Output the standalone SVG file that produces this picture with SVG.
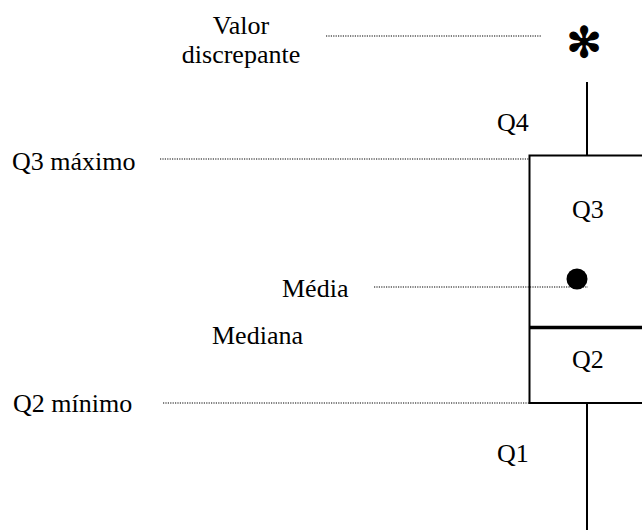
<svg xmlns="http://www.w3.org/2000/svg" width="642" height="530" viewBox="0 0 642 530">
<style>
.t{font-family:"Liberation Serif","Times New Roman",serif;font-size:26px;fill:#000}
.dot{stroke:#000;stroke-width:1.2;stroke-dasharray:1.2 1.2;fill:none}
.ln{stroke:#000;stroke-width:2;fill:none}
</style>
<rect width="642" height="530" fill="#fff"/>
<g id="connectors">
<line class="dot" x1="326" y1="36" x2="541" y2="36"/>
<line class="dot" x1="160" y1="159" x2="529" y2="159"/>
<line class="dot" x1="374" y1="287" x2="588" y2="287"/>
<line class="dot" x1="163" y1="403" x2="541" y2="403"/>
</g>
<g id="box">
<line class="ln" x1="587" y1="82" x2="587" y2="155"/>
<path class="ln" d="M645 155.5H529.5V403H645"/>
<line stroke="#000" stroke-width="3.5" x1="529" y1="327.5" x2="645" y2="327.5"/>
<line class="ln" x1="587" y1="403" x2="587" y2="530"/>
</g>
<g id="outlier"><text x="584" y="57" text-anchor="middle" style="font-family:'DejaVu Sans',sans-serif;font-size:42px;stroke:#000;stroke-width:1.2">✻</text></g>
<g id="mean"><circle cx="577" cy="279" r="10.5" fill="#000"/></g>
<g id="label-valor"><text class="t" x="241" y="34" text-anchor="middle">Valor</text><text class="t" x="241" y="63" text-anchor="middle">discrepante</text></g>
<g id="label-q4"><text class="t" x="497" y="131">Q4</text></g>
<g id="label-q3max"><text class="t" x="12" y="170">Q3 máximo</text></g>
<g id="label-q3"><text class="t" x="572" y="218">Q3</text></g>
<g id="label-media"><text class="t" x="282" y="297">Média</text></g>
<g id="label-mediana"><text class="t" x="212" y="344">Mediana</text></g>
<g id="label-q2"><text class="t" x="572" y="368">Q2</text></g>
<g id="label-q2min"><text class="t" x="13" y="412">Q2 mínimo</text></g>
<g id="label-q1"><text class="t" x="497" y="462">Q1</text></g>
</svg>
